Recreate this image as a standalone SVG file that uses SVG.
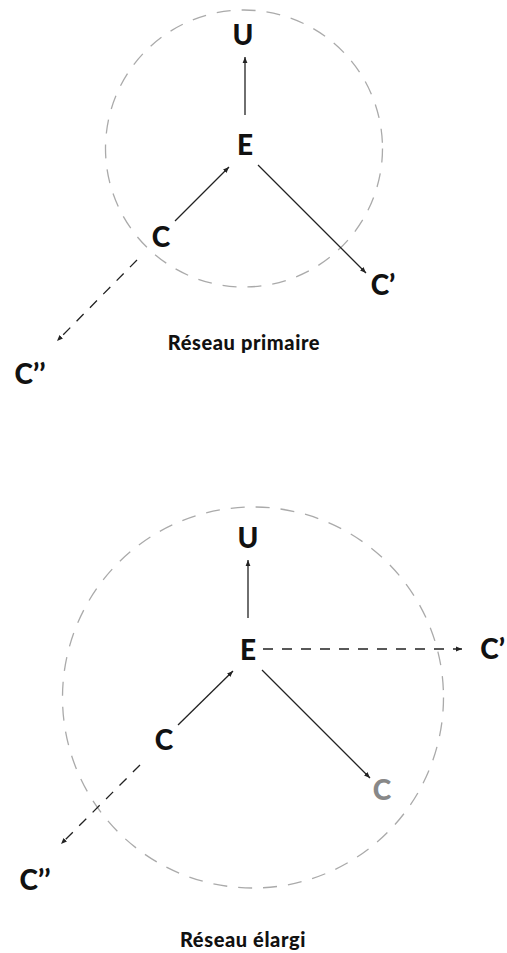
<svg xmlns="http://www.w3.org/2000/svg" width="507" height="953" viewBox="0 0 507 953">
<style>
.lbl{font-family:Lato,"Open Sans","Liberation Sans",sans-serif;font-weight:900;font-size:28px;fill:#111;text-anchor:middle}
.cap{font-family:Lato,"Open Sans","Liberation Sans",sans-serif;font-weight:900;font-size:20px;letter-spacing:0.6px;fill:#111;text-anchor:middle}
.ring{fill:none;stroke:#aaa;stroke-width:1.3;stroke-dasharray:14 11}
.edge{stroke:#222;stroke-width:1.3;fill:none;marker-end:url(#ah)}
.dash{stroke-dasharray:10 9}
</style>
<defs>
<marker id="ah" viewBox="0 0 10 10" refX="10" refY="5" markerWidth="6" markerHeight="6" markerUnits="userSpaceOnUse" orient="auto">
<path d="M0,1 L10,5 L0,9 Z" fill="#222"/>
</marker>
</defs>
<g id="rings">
<circle class="ring" cx="244" cy="148.5" r="138.5"/>
<circle class="ring" cx="253" cy="697.5" r="190.5"/>
</g>
<g id="connectors">
<line class="edge" x1="245" y1="115" x2="245" y2="57"/>
<line class="edge" x1="175" y1="221" x2="229" y2="167"/>
<line class="edge" x1="258" y1="165" x2="366" y2="273"/>
<line class="edge dash" x1="137" y1="260" x2="57" y2="341"/>
<line class="edge" x1="248" y1="618" x2="248" y2="560"/>
<line class="edge dash" x1="263" y1="649" x2="462" y2="649"/>
<line class="edge" x1="178" y1="725" x2="233" y2="671"/>
<line class="edge" x1="262" y1="670" x2="370" y2="778"/>
<line class="edge dash" x1="140" y1="765" x2="61" y2="844"/>
</g>
<g id="U1"><text class="lbl" x="243" y="45">U</text></g>
<g id="E1"><text class="lbl" x="245" y="155">E</text></g>
<g id="C1"><text class="lbl" x="161" y="247">C</text></g>
<g id="Cp1"><text class="lbl" x="383" y="295">C’</text></g>
<g id="Cpp1"><text class="lbl" x="30" y="384">C’’</text></g>
<g id="cap1"><text class="cap" x="244" y="350">Réseau primaire</text></g>
<g id="U2"><text class="lbl" x="248" y="548">U</text></g>
<g id="E2"><text class="lbl" x="248" y="660">E</text></g>
<g id="Cp2"><text class="lbl" x="505" y="659" style="text-anchor:end">C’</text></g>
<g id="C2"><text class="lbl" x="164" y="750">C</text></g>
<g id="Cg2"><text class="lbl" x="382" y="800" style="fill:#888">C</text></g>
<g id="Cpp2"><text class="lbl" x="35" y="890">C’’</text></g>
<g id="cap2"><text class="cap" x="243" y="947">Réseau élargi</text></g>
</svg>
